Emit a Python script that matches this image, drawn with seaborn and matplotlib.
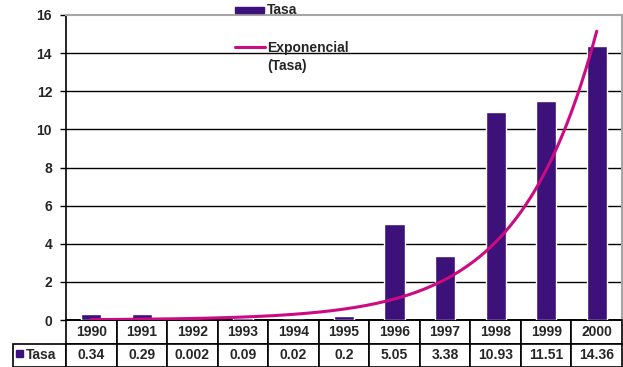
import numpy as np
import pandas as pd
import matplotlib
matplotlib.use("Agg")
import matplotlib.pyplot as plt
import seaborn as sns
from matplotlib.patches import Rectangle
from matplotlib.lines import Line2D

# Data
years = ["1990", "1991", "1992", "1993", "1994", "1995",
         "1996", "1997", "1998", "1999", "2000"]
tasa = [0.34, 0.29, 0.002, 0.09, 0.02, 0.2, 5.05, 3.38, 10.93, 11.51, 14.36]
series_name = "Tasa"
trend_name = "Exponencial\n(Tasa)"

bar_color = "#3C1179"
trend_color = "#CC0A82"
FS = 10
FAMILY = "Liberation Sans"

sns.set_theme(style="white")
plt.rcParams["font.family"] = FAMILY
plt.rcParams["font.weight"] = "bold"

W, H = 623, 367
fig = plt.figure(figsize=(W / 100, H / 100), dpi=100)
ax = fig.add_axes([66 / W, 1 - 320 / H, 556 / W, 305 / H])

df = pd.DataFrame({"year": years, "tasa": tasa})
sns.barplot(data=df, x="year", y="tasa", color=bar_color, width=0.4,
            saturation=1, ax=ax, zorder=3)

# Exponential trend fitted on log values (least squares), as a spreadsheet trendline
idx = np.arange(len(tasa))
b, a = np.polyfit(idx, np.log(tasa), 1)
xs = np.linspace(0, len(tasa) - 1, 200)
trend_df = pd.DataFrame({"x": xs, "y": np.exp(a + b * xs)})
sns.lineplot(data=trend_df, x="x", y="y", color=trend_color, linewidth=2.2,
             ax=ax, zorder=4, legend=False)

ax.set_xlim(-0.5, len(tasa) - 0.5)
ax.set_ylim(0, 16)
ax.set_yticks(np.arange(0, 17, 2))
ax.set_yticklabels([str(v) for v in range(0, 17, 2)], fontsize=FS,
                   fontweight="bold", family=FAMILY)
ax.set_xticks([])
ax.set_xlabel("")
ax.set_ylabel("")
for y in range(2, 16, 2):
    ax.axhline(y, color="black", linewidth=1, zorder=1)
ax.tick_params(axis="y", length=4, width=1, color="black", pad=6, left=True)

for side in ("top", "right"):
    ax.spines[side].set_color("#A6A6A6")
    ax.spines[side].set_linewidth(1.5)
for side in ("left", "bottom"):
    ax.spines[side].set_color("black")
    ax.spines[side].set_linewidth(1.2)


def px(x, y):
    """Figure fraction from pixel position (origin top-left)."""
    return x / W, 1 - y / H


# Legend keys, without a frame, near the top of the plot
x0, y0 = px(235, 13)
fig.add_artist(Rectangle((x0, y0), 29 / W, 6 / H, transform=fig.transFigure,
                         color=bar_color, zorder=6))
fig.text(*px(267, 10.5), series_name, fontsize=FS, fontweight="bold",
         family=FAMILY, va="center", ha="left", zorder=6)
lx0, ly = px(235, 47)
lx1, _ = px(265, 47)
fig.add_artist(Line2D([lx0, lx1], [ly, ly], transform=fig.transFigure,
                      color=trend_color, linewidth=2.2, zorder=6))
fig.text(*px(267, 41), trend_name, fontsize=FS, fontweight="bold",
         family=FAMILY, va="top", ha="left", linespacing=1.35, zorder=6)

# Data table under the axis
col_w = [53] + [556 / len(years)] * len(years)
total = sum(col_w)
tbl = ax.table(cellText=[[series_name] + [f"{v:g}" for v in tasa]],
               colLabels=[""] + years,
               colWidths=[w / total for w in col_w],
               cellLoc="center",
               bbox=[-53 / 556, -47 / 305, total / 556, 47 / 305])
tbl.auto_set_font_size(False)
for (r, c), cell in tbl.get_celld().items():
    cell.set_linewidth(1.2)
    cell.set_edgecolor("black")
    txt = cell.get_text()
    txt.set_fontsize(FS)
    txt.set_fontweight("bold")
    txt.set_family(FAMILY)
    if r == 0 and c == 0:
        cell.visible_edges = ""
    if r == 1 and c == 0:
        txt.set_ha("left")
        cell.PAD = 0.24
        cell._loc = "left"

# Small series key in the table row header
ax.add_patch(Rectangle((-50 / 556, -37 / 305), 7 / 556, 7 / 305,
                       transform=ax.transAxes, color=bar_color, clip_on=False,
                       zorder=5))

fig.savefig("out.png", dpi=100)
